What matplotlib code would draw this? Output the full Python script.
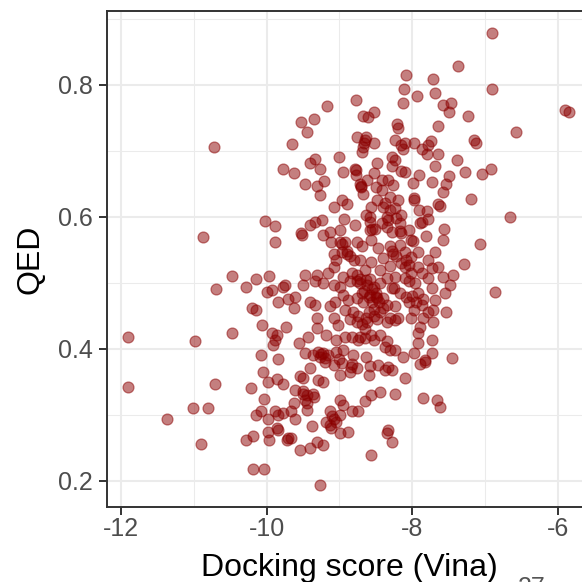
import matplotlib
matplotlib.use("Agg")
import matplotlib.pyplot as plt
from matplotlib.ticker import FixedLocator

# Vina docking score and QED for each generated molecule
vina_score = [
    # sparse left side
    -11.90, -11.90, -11.37, -11.01, -10.98, -10.90, -10.88, -10.81, -10.72, -10.71, -10.70,
    -10.48, -10.48,
    # -10.3 .. -9.6
    -10.14, -9.97, -10.02, -9.89, -9.88, -9.77, -9.65, -9.62,
    -10.28, -10.00, -9.92, -9.78, -9.75, -9.84, -9.71, -10.20, -10.14, -10.06, -9.74,
    -9.92, -9.86, -9.88, -9.91, -10.08, -9.85, -10.05, -9.98, -9.86, -9.78, -10.21,
    -10.04, -10.14, -10.07, -9.98, -9.89, -9.84, -9.78, -9.86, -9.85, -9.70, -9.72,
    -9.98, -10.18, -10.28, -9.97, -10.18, -10.04,
    # upper middle
    -9.17, -8.77, -8.67, -8.61, -8.53, -9.53, -9.35, -9.44,
    -8.76, -8.65, -8.63, -8.53, -8.68, -8.69, -8.66, -9.00, -9.34, -9.40, -9.26, -9.47,
    -9.31, -9.21, -9.26, -8.95, -8.79, -8.77, -8.77, -8.72, -8.71, -8.70, -8.67, -8.62,
    -8.53, -8.48, -8.42, -8.28, -8.50, -8.42, -8.97, -8.89, -9.08, -8.94, -8.79, -8.63,
    -8.58, -8.56, -8.49, -8.40, -8.58, -8.42, -8.35, -9.34, -9.24, -9.40, -9.53, -9.52,
    -9.22, -9.13, -9.11, -8.99, -8.97, -8.92, -8.97, -8.90, -8.90, -9.08, -9.04, -8.76,
    -8.69, -8.72, -8.58, -8.55, -8.51, -8.56, -8.47, -8.56, -8.40, -8.44, -8.83, -8.76,
    -8.65, -9.08, -9.47, -9.31, -9.15, -8.95, -8.99,
    -8.85, -8.80, -8.38, -8.30, -8.22, -8.35,
    # upper right
    -7.37, -8.08, -7.71, -8.11, -7.68, -7.93, -8.13, -7.57, -7.47, -7.50, -7.24, -7.64,
    -8.21, -8.20, -7.15, -7.13, -8.24, -8.15, -8.12, -8.10, -7.97, -7.86, -7.80, -7.74,
    -7.78, -7.65, -7.38, -7.27, -7.04, -8.15, -8.10, -7.91, -7.99, -7.73, -7.69, -7.50,
    -7.53, -7.57, -7.19, -7.64, -7.62, -7.98, -7.97, -7.90, -7.80, -7.78, -7.89, -7.86,
    -7.56, -7.57, -7.81, -7.07, -7.29, -7.44, -7.69, -8.01, -7.99, -8.28, -8.24,
    -8.33, -8.26, -8.30, -8.19, -8.24, -8.15, -8.33, -8.17, -8.28, -8.17, -8.15, -8.05,
    -8.30, -8.17, -8.28, -8.26, -8.10, -8.01, -7.92, -7.78, -7.92, -8.10, -8.05, -8.01,
    -7.87, -7.73, -7.64, -7.57,
    -8.22, -8.15, -8.08, -8.30,
    # lower middle
    -9.50, -9.34, -9.22, -9.08, -8.99, -8.86, -8.76, -8.63, -8.53, -8.44, -8.35,
    -9.61, -9.40, -9.34, -9.13, -9.06, -8.95, -8.88, -8.76, -8.69, -8.58, -8.49, -8.40,
    -9.63, -9.31, -9.08, -9.02, -8.92, -8.81, -8.76, -8.69, -8.63, -8.53, -8.44, -8.35,
    -9.31, -9.43, -9.56, -9.18, -9.04, -8.92, -8.83, -8.74, -8.65, -8.53, -8.44, -8.35,
    -9.47, -9.36, -9.29, -9.22, -9.15, -9.20, -9.40, -9.08, -8.97, -8.95, -8.81, -8.76,
    -8.86, -8.99, -8.63, -8.58, -8.47, -8.37, -8.60, -9.54, -9.50, -9.29, -9.22,
    -9.61, -9.50, -9.36, -9.47, -9.63, -8.99, -8.95, -8.83, -8.74, -8.65, -8.56, -8.44,
    -9.13, -9.08, -9.04, -9.18, -8.99, -9.66, -9.61, -9.45, -9.38, -9.11, -8.99, -8.88,
    -9.66, -9.54, -9.40, -9.31, -9.22, -8.56, -9.27,
    -9.25, -9.20, -9.27, -8.72, -8.66, -8.55, -8.60, -8.58, -8.50, -9.45, -9.50, -9.10,
    -9.13, -8.72, -8.56, -8.82, -8.84,
    -8.72, -8.62, -8.55, -8.50, -8.45, -8.60, -8.68, -8.52, -8.40, -8.62, -8.48,
    -9.05, -9.00, -8.85, -8.75, -8.65, -9.45, -9.35,
    # lower right
    -8.24, -8.10, -7.96, -7.78, -7.48, -8.28, -8.17, -8.08, -7.92, -7.73, -7.69, -7.55,
    -8.35, -8.24, -7.98, -7.87, -7.78, -7.71, -7.53, -8.31, -8.19, -8.01, -7.85, -7.71,
    -7.89, -7.92, -7.73, -7.92, -8.37, -8.24, -8.12, -7.98, -7.73, -7.83, -7.89, -7.46,
    -8.28, -8.10, -8.24, -7.85, -7.66, -7.62, -8.33, -8.34, -8.28,
    -8.25, -8.23, -8.30, -8.33, -7.82, -8.05, -8.00,
    -8.05, -7.95, -7.85,
    # sparse right side
    -6.91, -6.91, -5.90, -5.84, -6.58, -6.66, -6.92, -6.86,
]

qed = [
    # sparse left side
    0.417, 0.342, 0.293, 0.310, 0.412, 0.256, 0.569, 0.310, 0.706, 0.347, 0.490,
    0.510, 0.423,
    # -10.3 .. -9.6
    0.505, 0.510, 0.593, 0.586, 0.561, 0.673, 0.710, 0.666,
    0.494, 0.486, 0.489, 0.494, 0.497, 0.471, 0.475, 0.461, 0.459, 0.436, 0.433,
    0.423, 0.421, 0.413, 0.405, 0.390, 0.384, 0.365, 0.350, 0.354, 0.347, 0.341,
    0.324, 0.300, 0.305, 0.294, 0.305, 0.300, 0.302, 0.279, 0.276, 0.264, 0.261,
    0.274, 0.268, 0.261, 0.261, 0.217, 0.217,
    # upper middle
    0.768, 0.777, 0.753, 0.751, 0.758, 0.744, 0.748, 0.729,
    0.720, 0.716, 0.721, 0.712, 0.706, 0.698, 0.712, 0.690, 0.688, 0.681, 0.673, 0.650,
    0.646, 0.654, 0.633, 0.667, 0.673, 0.670, 0.663, 0.650, 0.645, 0.646, 0.635, 0.655,
    0.666, 0.682, 0.655, 0.677, 0.645, 0.640, 0.626, 0.619, 0.614, 0.596, 0.587, 0.602,
    0.600, 0.615, 0.625, 0.615, 0.592, 0.590, 0.600, 0.592, 0.595, 0.588, 0.576, 0.572,
    0.572, 0.577, 0.562, 0.562, 0.558, 0.562, 0.547, 0.548, 0.544, 0.544, 0.534, 0.562,
    0.555, 0.534, 0.580, 0.582, 0.582, 0.565, 0.552, 0.532, 0.537, 0.519, 0.514, 0.512,
    0.519, 0.524, 0.512, 0.512, 0.514, 0.509, 0.580,
    0.540, 0.535, 0.620, 0.610, 0.598, 0.585,
    # upper right
    0.829, 0.815, 0.808, 0.793, 0.787, 0.783, 0.773, 0.769, 0.773, 0.758, 0.752, 0.738,
    0.741, 0.734, 0.716, 0.712, 0.716, 0.709, 0.703, 0.712, 0.712, 0.703, 0.695, 0.714,
    0.709, 0.695, 0.686, 0.668, 0.665, 0.669, 0.667, 0.663, 0.651, 0.652, 0.677, 0.662,
    0.650, 0.638, 0.627, 0.619, 0.616, 0.628, 0.626, 0.610, 0.608, 0.596, 0.590, 0.592,
    0.582, 0.565, 0.571, 0.559, 0.529, 0.512, 0.547, 0.565, 0.563, 0.691, 0.686,
    0.656, 0.648, 0.630, 0.625, 0.613, 0.603, 0.595, 0.590, 0.577, 0.578, 0.575, 0.580,
    0.555, 0.557, 0.548, 0.544, 0.547, 0.539, 0.547, 0.534, 0.524, 0.524, 0.527, 0.514,
    0.514, 0.522, 0.524, 0.509,
    0.540, 0.530, 0.535, 0.525,
    # lower middle
    0.497, 0.502, 0.499, 0.497, 0.494, 0.502, 0.502, 0.504, 0.494, 0.499, 0.507,
    0.479, 0.471, 0.466, 0.464, 0.471, 0.481, 0.474, 0.476, 0.484, 0.481, 0.476, 0.476,
    0.461, 0.446, 0.446, 0.436, 0.459, 0.456, 0.441, 0.438, 0.446, 0.449, 0.456, 0.441,
    0.431, 0.418, 0.408, 0.421, 0.413, 0.418, 0.418, 0.413, 0.416, 0.413, 0.421, 0.411,
    0.393, 0.390, 0.395, 0.393, 0.390, 0.380, 0.370, 0.375, 0.378, 0.398, 0.390, 0.370,
    0.365, 0.360, 0.388, 0.373, 0.375, 0.368, 0.360, 0.358, 0.355, 0.353, 0.350,
    0.337, 0.332, 0.332, 0.322, 0.317, 0.322, 0.315, 0.305, 0.305, 0.320, 0.330, 0.335,
    0.305, 0.294, 0.289, 0.289, 0.300, 0.305, 0.294, 0.307, 0.282, 0.279, 0.272, 0.274,
    0.264, 0.246, 0.249, 0.259, 0.254, 0.239, 0.194,
    0.392, 0.386, 0.388, 0.500, 0.488, 0.470, 0.455, 0.505, 0.485, 0.318, 0.336, 0.298,
    0.285, 0.418, 0.420, 0.377, 0.372,
    0.505, 0.497, 0.490, 0.478, 0.470, 0.478, 0.470, 0.460, 0.462, 0.440, 0.445,
    0.395, 0.385, 0.445, 0.450, 0.430, 0.330, 0.327,
    # lower right
    0.509, 0.507, 0.499, 0.507, 0.497, 0.492, 0.484, 0.479, 0.484, 0.492, 0.474, 0.484,
    0.466, 0.464, 0.459, 0.466, 0.456, 0.459, 0.456, 0.446, 0.446, 0.446, 0.446, 0.441,
    0.433, 0.423, 0.413, 0.408, 0.403, 0.398, 0.388, 0.393, 0.393, 0.383, 0.376, 0.386,
    0.368, 0.355, 0.332, 0.325, 0.322, 0.312, 0.277, 0.272, 0.259,
    0.492, 0.443, 0.398, 0.372, 0.380, 0.503, 0.480,
    0.470, 0.470, 0.475,
    # sparse right side
    0.878, 0.794, 0.762, 0.758, 0.728, 0.599, 0.672, 0.486,
]

x_ticks = [-12, -10, -8, -6]
x_tick_labels = ["-12", "-10", "-8", "-6"]
x_minor = [-11, -9, -7]
y_ticks = [0.2, 0.4, 0.6, 0.8]
y_tick_labels = ["0.2", "0.4", "0.6", "0.8"]
y_minor = [0.3, 0.5, 0.7, 0.9]

plt.rcParams["font.family"] = ["Liberation Sans", "DejaVu Sans"]

W = 582
fig = plt.figure(figsize=(W / 100, W / 100), dpi=100)
fig.patch.set_facecolor("white")
ax = fig.add_axes([107 / W, 75 / W, 484 / W, 496 / W])
ax.set_facecolor("white")
ax.set_xlim(-12.192, -5.544)
ax.set_ylim(0.160, 0.9117)

ax.set_axisbelow(True)
ax.set_xticks(x_ticks, x_tick_labels)
ax.set_yticks(y_ticks, y_tick_labels)
ax.xaxis.set_minor_locator(FixedLocator(x_minor))
ax.yaxis.set_minor_locator(FixedLocator(y_minor))
ax.grid(which="major", color="#EBEBEB", linewidth=1.5)
ax.grid(which="minor", color="#EBEBEB", linewidth=0.75)
ax.tick_params(which="minor", length=0)
ax.tick_params(which="major", length=5.5, width=1.4, color="#333333",
               labelsize=18, labelcolor="#4D4D4D")
ax.tick_params(axis="x", pad=2)
ax.tick_params(axis="y", pad=4.5)
for spine in ax.spines.values():
    spine.set_color("#333333")
    spine.set_linewidth(1.4)

ax.scatter(vina_score, qed, s=62, c="#8B0000", edgecolors="#8B0000",
           linewidths=0.9, alpha=0.5, zorder=3)

ax.set_xlabel("Docking score (Vina)", fontsize=23, color="black")
ax.xaxis.label.set_verticalalignment("baseline")
ax.xaxis.set_label_coords(0.5, (507 - 576) / 496)
ax.set_ylabel("QED", fontsize=23, color="black")
ax.yaxis.label.set_verticalalignment("center")
ax.yaxis.set_label_coords((30.5 - 107) / 484, 0.5)

# page number at the bottom edge of the figure
fig.text(518 / W, (W - 576) / W, "27", fontsize=18, color="#555555",
         ha="left", va="top")

fig.savefig("out.png", dpi=100)
